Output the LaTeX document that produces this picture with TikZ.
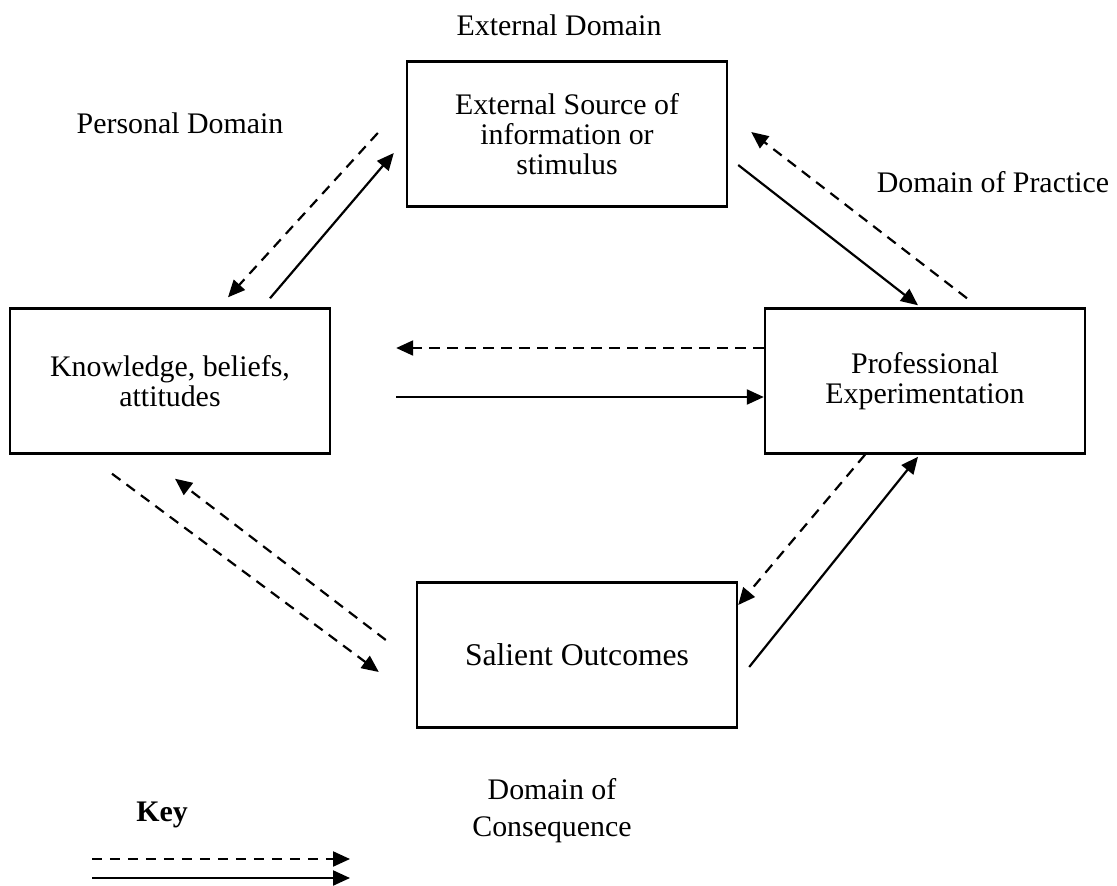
\documentclass[tikz,border=0pt]{standalone}
\usepackage{fontspec}
\setmainfont{Liberation Serif}
\usepackage{tikz}
\usetikzlibrary{arrows.meta, positioning, calc}

\begin{document}
\begin{tikzpicture}[
    x=0.02cm, y=-0.02cm,
    box/.style={rectangle, draw=black, line width=1.4pt, minimum width=6.4cm, minimum height=2.9cm, align=center, inner sep=0pt, font=\fontsize{17}{17}\selectfont},
    domtext/.style={align=center, inner sep=0pt, font=\fontsize{17}{17}\selectfont},
    flow/.style={-{Triangle[length=0.34cm, width=0.3cm]}, line width=1.25pt},
    feedback/.style={flow, dash pattern=on 0.21cm off 0.15cm}
]
    \useasboundingbox (0,0) rectangle (1117,886);

    % Boxes
    \node (ext) [box] at (567,134) {External Source of\\information or\\stimulus};
    \node (know) [box] at (170,381) {Knowledge, beliefs,\\attitudes};
    \node (prof) [box] at (925,381) {Professional\\Experimentation};
    \node (sal) [box, font=\fontsize{18}{18}\selectfont] at (577,655) {Salient Outcomes};

    % Domains
    \node (extdom) [domtext] at (559,25) {External Domain};
    \node (perdom) [domtext] at (180,123) {Personal Domain};
    \node (pracdom) [domtext] at (993,182) {Domain of Practice};
    \node (condom) [domtext, font=\fontsize{17}{21}\selectfont] at (552,811) {Domain of\\Consequence};

    % Key
    \node (key) [domtext, font=\fontsize{17}{17}\selectfont\bfseries] at (162,815) {Key};
    \coordinate (keyda) at (92,859);
    \coordinate (keydb) at (350,859);
    \coordinate (keysa) at (92,878);
    \coordinate (keysb) at (350,878);
    \draw [feedback] (keyda) -- (keydb);
    \draw [flow] (keysa) -- (keysb);

    % Connections
    \draw [flow] ($(know.north)+(100,-9)$) -- ($(ext.west)+(-12,19)$);
    \draw [feedback] ($(ext.west)+(-28,-1)$) -- ($(know.north)+(58,-10)$);

    \draw [flow] ($(ext.east)+(10,31)$) -- ($(prof.north)+(-7,-2)$);
    \draw [feedback] ($(prof.north)+(42,-9)$) -- ($(ext.east)+(23,-2)$);

    \draw [feedback] ($(prof.west)+(0,-33)$) -- ($(know.east)+(65,-33)$);
    \draw [flow] ($(know.east)+(65,16)$) -- ($(prof.west)+(0,16)$);

    \draw [feedback] ($(prof.south)+(-60,0)$) -- ($(sal.east)+(0,-50)$);
    \draw [flow] ($(sal.east)+(11,12)$) -- ($(prof.south)+(-7,2)$);

    \draw [feedback] ($(know.south)+(-58,19)$) -- ($(sal.west)+(-37,17)$);
    \draw [feedback] ($(sal.west)+(-30,-15)$) -- ($(know.south)+(5,24)$);
\end{tikzpicture}
\end{document}
